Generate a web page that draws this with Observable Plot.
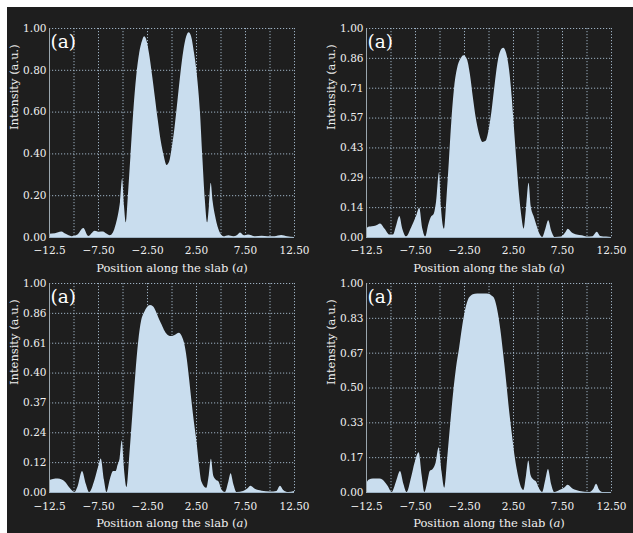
<!DOCTYPE html>
<html>
<head>
<meta charset="utf-8">
<script src="https://cdn.jsdelivr.net/npm/d3@7"></script>
<script src="https://cdn.jsdelivr.net/npm/@observablehq/plot@0.6"></script>
<style>
  body { margin: 0; background: #fff; }
  #wrap { position: relative; width: 633px; height: 533px; background: #fff; overflow: hidden; }
  #bg { position: absolute; left: 7px; top: 7px; width: 626px; height: 526px; background: #1e1e1e; }
  .panel { position: absolute; }
</style>
</head>
<body>
<div id="wrap"><div id="bg"></div></div>
<script>
// ---- shared axis data ----
const xTicks = [-12.5, -7.5, -2.5, 2.5, 7.5, 12.5];
const xTickLabels = ["\u221212.5", "\u22127.50", "\u22122.50", "2.50", "7.50", "12.50"];
const xGrid = [-12.5, -10, -7.5, -5, -2.5, 0, 2.5, 5, 7.5, 10, 12.5];
const xLabel = "Position along the slab (a)";
const yLabel = "Intensity (a.u.)";
const panelTag = "(a)";

// ---- y tick labels (evenly spaced positions) ----
const yLabels1 = ["0.00", "0.20", "0.40", "0.60", "0.80", "1.00"];
const yLabels2 = ["0.00", "0.14", "0.29", "0.43", "0.57", "0.71", "0.86", "1.00"];
const yLabels3 = ["0.00", "0.12", "0.24", "0.37", "0.40", "0.61", "0.86", "1.00"];
const yLabels4 = ["0.00", "0.17", "0.33", "0.50", "0.67", "0.83", "1.00"];

// ---- panel 1 (top-left) ----
const p1x = [-12.5,-11.9,-11.24,-10.8,-10.2,-9.6,-9.0,-8.5,-7.83,-7.4,-7.0,-6.6,-6.3,-6.0,-5.7,-5.45,-5.25,-5.04,-4.85,-4.67,-4.45,-4.2,-3.9,-3.6,-3.3,-3.0,-2.8,-2.55,-2.3,-2.0,-1.7,-1.4,-1.1,-0.8,-0.5,-0.25,0.0,0.3,0.6,0.9,1.2,1.5,1.75,2.0,2.3,2.6,2.9,3.15,3.4,3.64,3.82,4.0,4.2,4.45,4.7,5.0,5.3,5.8,6.3,6.7,7.0,7.4,7.8,8.5,9.2,9.8,10.5,11.2,11.8,12.5];
const p1y = [0.016,0.018,0.026,0.015,0.004,0.012,0.043,0.005,0.03,0.025,0.026,0.015,0.008,0.02,0.06,0.11,0.17,0.28,0.15,0.07,0.2,0.38,0.6,0.77,0.88,0.94,0.96,0.94,0.88,0.78,0.67,0.56,0.46,0.39,0.345,0.36,0.42,0.52,0.65,0.78,0.89,0.96,0.98,0.96,0.88,0.77,0.6,0.38,0.18,0.07,0.15,0.26,0.17,0.1,0.05,0.015,0.003,0.008,0.004,0.01,0.022,0.008,0.012,0.004,0.006,0.003,0.004,0.01,0.003,0.0];

// ---- panel 2 (top-right) ----
const p2x = [-12.5,-12.2,-11.9,-11.5,-11.07,-10.6,-10.1,-9.75,-9.4,-9.1,-8.8,-8.4,-7.9,-7.4,-7.07,-6.75,-6.45,-6.15,-5.9,-5.6,-5.35,-5.05,-4.85,-4.55,-4.3,-4.05,-3.8,-3.5,-3.2,-2.9,-2.55,-2.2,-1.9,-1.6,-1.3,-1.0,-0.6,-0.3,0.0,0.3,0.6,0.9,1.2,1.5,1.8,2.1,2.35,2.6,2.85,3.1,3.35,3.58,3.85,4.09,4.3,4.6,4.9,5.2,5.48,5.8,6.09,6.4,6.75,7.4,7.8,8.09,8.5,9.0,9.5,10.0,10.6,11.04,11.4,12.0,12.5];
const p2y = [0.04,0.05,0.052,0.055,0.065,0.04,0.012,0.012,0.06,0.1,0.04,0.003,0.045,0.1,0.14,0.04,0.003,0.06,0.095,0.11,0.17,0.31,0.14,0.04,0.18,0.36,0.55,0.72,0.81,0.85,0.87,0.85,0.78,0.67,0.57,0.5,0.455,0.46,0.51,0.6,0.72,0.83,0.89,0.905,0.88,0.8,0.68,0.52,0.36,0.21,0.1,0.04,0.15,0.26,0.15,0.1,0.055,0.015,0.0,0.04,0.08,0.03,0.0,0.002,0.02,0.04,0.022,0.012,0.008,0.002,0.003,0.025,0.005,0.002,0.0];

// ---- panel 3 (bottom-left) ----
const p3x = [-12.5,-12.1,-11.6,-11.2,-10.9,-10.4,-9.9,-9.6,-9.13,-8.75,-8.4,-7.85,-7.5,-7.22,-6.9,-6.64,-6.3,-5.96,-5.7,-5.5,-5.3,-5.08,-4.85,-4.6,-4.3,-4.0,-3.7,-3.4,-3.1,-2.8,-2.5,-2.2,-1.9,-1.6,-1.3,-1.0,-0.7,-0.35,0.0,0.35,0.75,1.05,1.3,1.55,1.8,2.05,2.3,2.55,2.8,3.05,3.55,3.8,4.02,4.25,4.5,4.8,5.1,5.45,5.8,6.03,6.3,6.64,7.3,7.7,8.07,8.5,9.2,10.05,10.7,11.07,11.4,11.9,12.5];
const p3y = [0.056,0.062,0.064,0.06,0.05,0.02,0.0,0.025,0.1,0.04,0.0,0.06,0.12,0.16,0.06,0.0,0.06,0.1,0.1,0.13,0.16,0.246,0.11,0.024,0.18,0.37,0.56,0.72,0.82,0.86,0.885,0.895,0.889,0.865,0.83,0.8,0.77,0.75,0.746,0.752,0.762,0.745,0.71,0.64,0.54,0.43,0.33,0.24,0.13,0.05,0.02,0.08,0.159,0.08,0.06,0.05,0.012,0.0,0.05,0.09,0.04,0.0,0.005,0.015,0.03,0.015,0.006,0.002,0.005,0.03,0.01,0.0,0.005];

// ---- panel 4 (bottom-right) ----
const p4x = [-12.5,-12.2,-11.8,-11.3,-10.97,-10.63,-10.3,-9.88,-9.44,-9.03,-8.69,-8.35,-7.9,-7.55,-7.13,-6.82,-6.55,-6.2,-6.0,-5.7,-5.4,-5.09,-4.8,-4.51,-4.2,-3.9,-3.6,-3.3,-3.0,-2.7,-2.4,-2.1,-1.8,-1.4,-0.9,-0.4,0.0,0.3,0.6,0.9,1.2,1.5,1.8,2.1,2.4,2.7,3.0,3.3,3.55,3.83,4.06,4.3,4.57,4.85,5.12,5.46,5.8,6.07,6.38,6.72,7.23,7.7,8.08,8.6,9.27,10.3,10.7,10.97,11.31,11.65,12.5];
const p4y = [0.04,0.06,0.065,0.065,0.063,0.05,0.03,0.0,0.05,0.1,0.04,0.0,0.07,0.14,0.19,0.08,0.0,0.06,0.1,0.11,0.14,0.214,0.1,0.02,0.17,0.33,0.48,0.6,0.69,0.79,0.87,0.92,0.94,0.948,0.95,0.95,0.948,0.94,0.925,0.87,0.78,0.66,0.53,0.39,0.27,0.16,0.08,0.025,0.01,0.08,0.151,0.08,0.06,0.05,0.02,0.0,0.06,0.11,0.04,0.0,0.01,0.02,0.035,0.015,0.005,0.0,0.015,0.04,0.01,0.0,0.0];

const FONT = "DejaVu Serif";
const FILL = "#c9ddee";
const GRID = "#a3b8ca";
const TXT = "#f0f0f0";

function panel(xs, ys, yLabels, left, top, tickPad) {
  const data = xs.map((x, i) => ({x, y: ys[i]}));
  const n = yLabels.length;
  const yTicks = yLabels.map((_, i) => i / (n - 1));
  const xFmt = new Map(xTicks.map((t, i) => [t, xTickLabels[i]]));
  const W = 316, H = 276;
  const chart = Plot.plot({
    width: W, height: H,
    marginLeft: 49, marginRight: 22, marginTop: 28, marginBottom: 39,
    style: {background: "transparent", color: TXT, fontFamily: FONT, fontSize: "10px"},
    x: {domain: [-12.5, 12.5]},
    y: {domain: [0, 1]},
    marks: [
      Plot.gridX(xGrid, {stroke: GRID, strokeOpacity: 0.95, strokeDasharray: "1.2,1.8"}),
      Plot.gridY(yTicks, {stroke: GRID, strokeOpacity: 0.95, strokeDasharray: "1.2,1.8"}),
      Plot.areaY(data, {x: "x", y: "y", fill: FILL, curve: "monotone-x"}),
      Plot.ruleX([-12.5], {stroke: "#9aa6ae", strokeWidth: 1}),
      Plot.ruleY([0], {stroke: "#9fb4c6", strokeWidth: 1}),
      Plot.axisX(xTicks, {tickSize: 0, tickPadding: tickPad, tickFormat: d => xFmt.get(d), label: null, fill: TXT, fontSize: 10.5}),
      Plot.axisY(yTicks, {tickSize: 0, tickPadding: 3, tickFormat: d => yLabels[Math.round(d * (n - 1))], label: null, fill: TXT, fontSize: 10.5}),
      Plot.text([xLabel], {frameAnchor: "bottom", dy: 34, lineAnchor: "bottom", fill: TXT, fontSize: 11.5, text: d => d}),
      Plot.text([yLabel], {frameAnchor: "left", dx: -35, dy: -3, rotate: -90, fill: TXT, fontSize: 11.5, text: d => d}),
      Plot.text([panelTag], {frameAnchor: "top-left", dx: 1, dy: 19, lineAnchor: "bottom", textAnchor: "start", fill: "#ffffff", fontSize: 18.5, text: d => d})
    ]
  });
  chart.classList.add("panel");
  chart.style.left = left + "px";
  chart.style.top = top + "px";
  // italic "a" in axis label
  d3.select(chart).selectAll("text").filter(function () { return this.textContent === xLabel; })
    .each(function () {
      const t = d3.select(this);
      t.text("");
      t.append("tspan").text("Position along the slab (");
      t.append("tspan").attr("font-style", "italic").text("a");
      t.append("tspan").text(")");
    });
  document.getElementById("wrap").appendChild(chart);
}

panel(p1x, p1y, yLabels1, 0, 0, 9);
panel(p2x, p2y, yLabels2, 317, 0, 9);
panel(p3x, p3y, yLabels3, 0, 255, 10);
panel(p4x, p4y, yLabels4, 317, 255, 10);
</script>
</body>
</html>
